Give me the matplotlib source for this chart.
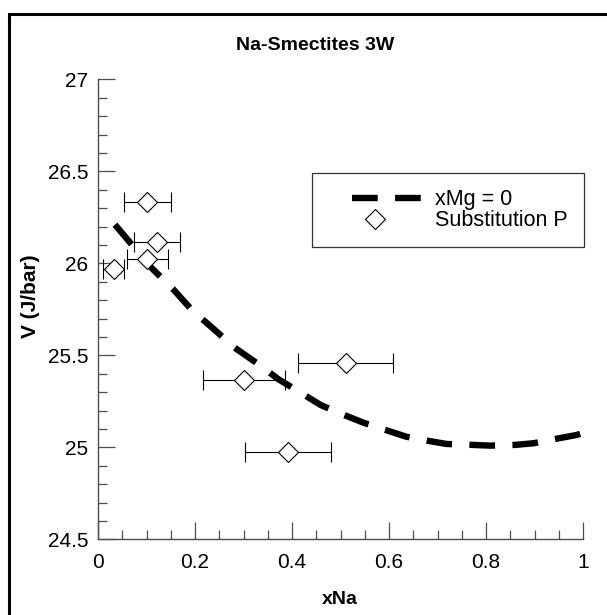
import matplotlib
matplotlib.use("Agg")
import matplotlib.pyplot as plt
from matplotlib.lines import Line2D
from matplotlib.patches import Rectangle
from matplotlib.ticker import MultipleLocator, FuncFormatter
from matplotlib.legend_handler import HandlerLine2D

plt.rcParams['font.family'] = ['Liberation Sans', 'DejaVu Sans']
plt.rcParams['lines.scale_dashes'] = False

# model curve xMg = 0
curve_x = [0.035, 0.075, 0.111, 0.155, 0.194, 0.241, 0.282, 0.331, 0.372, 0.422,
           0.459, 0.507, 0.547, 0.599, 0.635, 0.683, 0.719, 0.773, 0.808, 0.86,
           0.898, 0.95, 0.987, 1.0]
curve_v = [26.21, 26.085, 25.973, 25.859, 25.745, 25.637, 25.541, 25.451, 25.37, 25.29,
           25.23, 25.176, 25.134, 25.089, 25.058, 25.034, 25.018, 25.013, 25.009, 25.013,
           25.022, 25.049, 25.067, 25.078]

# substitution P data points with x error
sub_x = [0.032, 0.102, 0.122, 0.102, 0.301, 0.392, 0.511]
sub_v = [25.967, 26.335, 26.114, 26.023, 25.364, 24.973, 25.46]
sub_xerr = [0.021, 0.048, 0.047, 0.042, 0.085, 0.088, 0.098]

W, H = 607, 615
DASH = (0, (18.5, 12.5))

fig = plt.figure(figsize=(W / 100, H / 100), dpi=100)
ax = fig.add_axes([98 / W, 1 - 539.3 / H, 485 / W, 460 / H])

# outer frame (only left and top edges fall inside the picture)
fig.patches.append(Rectangle((8.5 / W, -0.05), 1.2, 1 - 13.5 / H + 0.05,
                             transform=fig.transFigure, fill=False,
                             edgecolor='black', linewidth=2.2, zorder=0))

ax.plot(curve_x, curve_v, color='black', linewidth=4.6, linestyle=DASH,
        dash_capstyle='butt', zorder=2)

ax.errorbar(sub_x, sub_v, xerr=sub_xerr, fmt='D', markersize=10.5,
            markerfacecolor='white', markeredgecolor='black', markeredgewidth=0.8,
            ecolor='black', elinewidth=0.8, capsize=7.5, capthick=0.8, zorder=3)

ax.set_xlim(0, 1)
ax.set_ylim(24.5, 27)
ax.xaxis.set_major_locator(MultipleLocator(0.2))
ax.xaxis.set_minor_locator(MultipleLocator(0.05))
ax.yaxis.set_major_locator(MultipleLocator(0.5))
ax.yaxis.set_minor_locator(MultipleLocator(0.1))
ax.xaxis.set_major_formatter(FuncFormatter(lambda v, p: f'{v:g}'))
ax.yaxis.set_major_formatter(FuncFormatter(lambda v, p: f'{v:g}'))

for s in ['top', 'right']:
    ax.spines[s].set_visible(False)
for s in ['left', 'bottom']:
    ax.spines[s].set_color('0.3')
    ax.spines[s].set_linewidth(1.0)

ax.tick_params(which='major', direction='in', length=12, width=0.9, color='0.3',
               labelsize=15)
ax.tick_params(axis='y', which='major', pad=7)
ax.tick_params(axis='x', which='major', pad=10)
ax.tick_params(which='minor', direction='in', length=6.8, width=0.9, color='0.3')

fig.text(315 / W, 1 - 45 / H, 'Na-Smectites 3W', ha='center', va='center',
         fontsize=14, fontweight='bold')
fig.text(340 / W, 1 - 600 / H, 'xNa', ha='center', va='center',
         fontsize=14, fontweight='bold')
fig.text(30 / W, 1 - 296 / H, 'V (J/bar)', ha='center', va='center',
         rotation=90, fontsize=15, fontweight='bold')

# legend box
fs = 15.5
line_handle = Line2D([], [], color='black', linewidth=4.6, linestyle=DASH,
                     dash_capstyle='butt')
mark_handle = Line2D([], [], linestyle='none', marker='D', markersize=10.5,
                     markerfacecolor='white', markeredgecolor='black',
                     markeredgewidth=0.8)
leg = ax.legend([line_handle, mark_handle], ['xMg = 0', 'Substitution P'],
                loc='upper left',
                bbox_to_anchor=((312 - 98) / 485, (539.3 - 173) / 460),
                fontsize=fs, frameon=True, fancybox=False, handlelength=4.37,
                borderpad=0.75, labelspacing=0.0, handletextpad=0.6,
                borderaxespad=0, edgecolor='black',
                handler_map={line_handle: HandlerLine2D(xpad=1.12),
                             mark_handle: HandlerLine2D(xpad=0.0)})
leg.get_frame().set_linewidth(0.9)

fig.savefig('out.png', dpi=100)
